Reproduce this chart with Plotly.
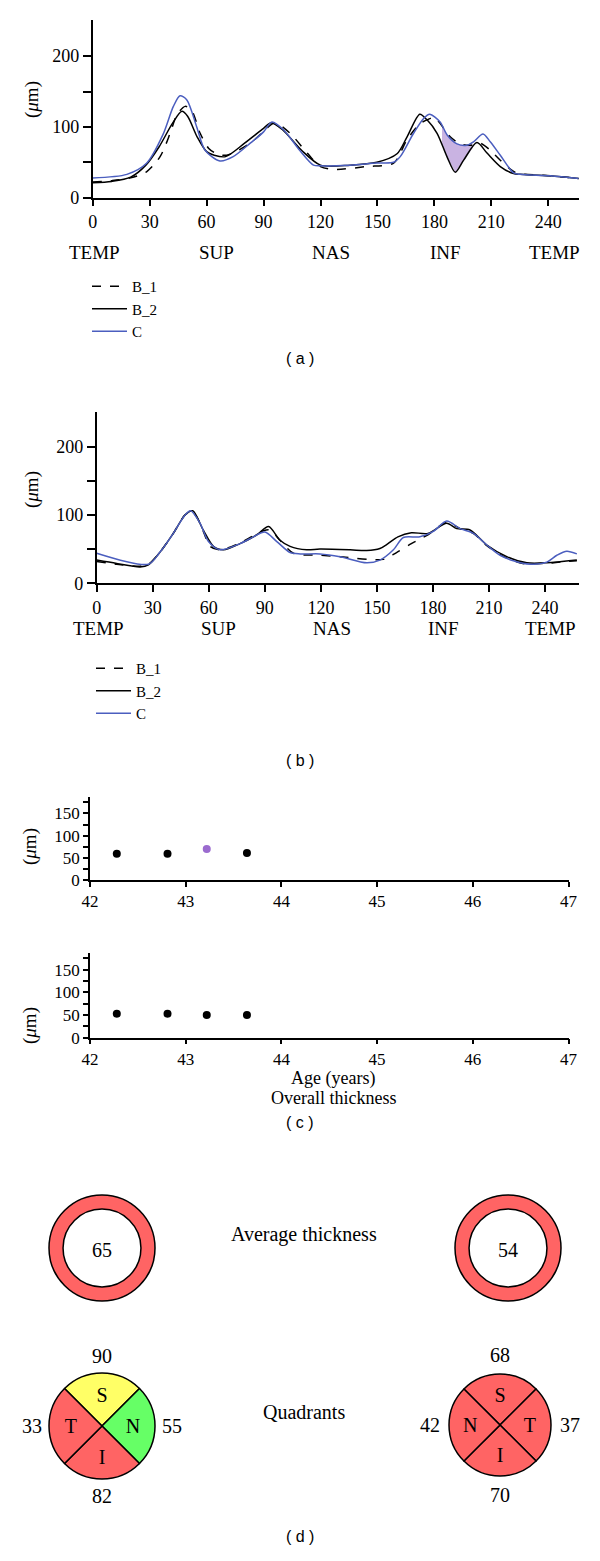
import numpy as np
import plotly.graph_objects as go

W, H = 600, 1561
SERIF = "Liberation Serif"
SANS = "Liberation Sans"

# ---------------- data ----------------
# panel (a) profiles (position in degrees, thickness in um)
a_b1_x = [0, 10, 20, 28.5, 35.5, 40.8, 44.3, 48.7, 52, 56.6, 61, 65.4, 70.6, 83, 91.7, 96, 104, 113, 120,
          126.8, 144.4, 158.5, 165.6, 172.6, 177.9, 180, 183, 188.3, 193.6, 198.9, 204.2, 209.4, 214.7,
          221.7, 225, 241, 256]
a_b1_y = [22, 24, 28, 37, 58, 91, 117, 129, 124, 91, 70, 62, 60, 77, 98, 106, 91, 63, 44,
          40, 44, 49, 82, 105, 112, 114, 105, 86, 76, 74, 77, 67, 53,
          37, 34, 31, 27]
a_b2_x = [0, 10, 20, 28, 35, 42, 47, 50, 55, 60, 64, 70, 80, 90, 94, 100, 110, 120, 135.6, 149.7,
          160.3, 165.6, 172.3, 176.1, 181.4, 186.6, 191, 195.4, 202.4, 207.7, 214.7, 221.7, 225, 241, 256]
a_b2_y = [21, 23, 29, 46, 72, 105, 122, 115, 86, 65, 60, 58, 77, 98, 106, 96, 67, 46, 46, 50,
          62, 86, 118, 110, 91, 58, 36, 53, 78, 63, 44, 34, 33, 31, 27]
a_c_x = [0, 18, 28.5, 37, 42.5, 46, 49.6, 54.8, 59.2, 67, 74, 83, 90, 94.4, 100.5, 109, 116.3, 120,
         135.6, 149.7, 158.5, 162, 169, 174.3, 177.5, 183, 186.6, 191.9, 197.1, 200.6, 205.6, 209.4,
         214.7, 221.7, 225.2, 241, 256]
a_c_y = [28, 33, 49, 89, 129, 144, 138, 100, 67, 52, 58, 77, 93, 107, 96, 67, 46, 45,
         46, 49, 50, 58, 91, 112, 118, 107, 89, 76, 74, 79, 90, 79,
         60, 35, 33, 31, 27]
a_shade_range = [184, 200]

# panel (b) profiles
b_b1_x = [0, 10.7, 23.2, 27.7, 34, 41, 47.3, 51, 55.3, 57.5, 60.7, 66, 76.7, 89.2, 92.8, 98.1, 105.3,
          119.5, 130.2, 153.4, 160.5, 168.4, 177.3, 187.3, 194.5, 201.6, 208.8, 219.5, 228, 239.4, 248, 257]
b_b1_y = [32, 28, 25, 28, 46, 73, 100, 105, 88, 73, 54, 49, 59, 77, 78, 63, 44,
          41, 39, 35, 45, 58, 71, 89, 80, 73, 55, 37, 29, 29, 31, 33]
b_b2_x = [0, 10.7, 23.2, 27.7, 34, 41, 47.3, 51.4, 57, 62.5, 67.8, 76.7, 85.7, 92, 98.1, 103.5, 112.4,
          119.5, 135.6, 144.5, 151.6, 155.9, 161.2, 168.4, 177.3, 187.3, 192.7, 199.8, 208.8, 219.5,
          230.2, 240.9, 257]
b_b2_y = [34, 29, 24, 27, 46, 73, 100, 106, 78, 54, 49, 58, 71, 83, 63, 54, 49,
          50, 49, 48, 51, 58, 68, 74, 73, 88, 80, 78, 56, 39,
          30, 30, 34]
b_c_x = [0, 27.7, 34, 41, 47.3, 50.3, 55.3, 59.8, 66, 76.7, 83.9, 90, 96.4, 103.5, 109, 119.5, 130.2,
         144.5, 151.6, 158.8, 164.1, 173, 180.2, 187.3, 194.5, 201.6, 208.8, 215.9, 223, 232, 240.9,
         246.3, 251.6, 257]
b_c_y = [44, 28, 46, 73, 100, 106, 88, 61, 49, 58, 68, 75, 61, 45, 43, 43, 39,
         30, 34, 49, 67, 68, 76, 91, 80, 73, 56, 41, 33, 28, 31,
         41, 47, 43]

profile_ticks = [0, 30, 60, 90, 120, 150, 180, 210, 240]
region_labels = ["TEMP", "SUP", "NAS", "INF", "TEMP"]
region_pos = [0.7, 65, 125.7, 185.8, 243]

# panel (c) overall thickness vs age
ages = [42.28, 42.81, 43.22, 43.64]
overall_top = [59, 59, 70, 61]
overall_top_colors = ["black", "black", "#9B6BCF", "black"]
overall_bottom = [53, 53, 50, 50]
overall_bottom_colors = ["black", "black", "black", "black"]

# panel (d)
avg_thickness = [65, 54]
quad_left_labels = ["S", "N", "I", "T"]
quad_left_values = [90, 55, 82, 33]
quad_left_colors = ["#FFFF66", "#66FF66", "#FF6464", "#FF6464"]
quad_right_labels = ["S", "T", "I", "N"]
quad_right_values = [68, 37, 70, 42]
quad_right_colors = ["#FF6464", "#FF6464", "#FF6464", "#FF6464"]
ring_color = "#FF6464"

BLUE = "#4B5EBF"
SHADE = "#C9B3E2"


def fx(p):
    return p / W


def fy(p):
    return 1 - p / H


fig = go.Figure()

# ---- panel (a) shading ----
xs = np.linspace(a_shade_range[0], a_shade_range[1], 40)
lo = np.interp(xs, a_b2_x, a_b2_y)
hi = np.interp(xs, a_c_x, a_c_y)
fig.add_trace(go.Scatter(x=xs, y=np.minimum(lo, hi), mode="lines", line=dict(width=0, shape="spline"),
                         showlegend=False, hoverinfo="skip", xaxis="x", yaxis="y"))
fig.add_trace(go.Scatter(x=xs, y=np.maximum(lo, hi), mode="lines", line=dict(width=0, shape="spline"),
                         fill="tonexty", fillcolor=SHADE, showlegend=False, hoverinfo="skip",
                         xaxis="x", yaxis="y"))


def add_profiles(b1x, b1y, b2x, b2y, cx, cy, xa, ya, leg):
    fig.add_trace(go.Scatter(x=b1x, y=b1y, mode="lines", name="B_1",
                             line=dict(color="black", width=1.5, dash="dash", shape="spline", smoothing=0.8),
                             xaxis=xa, yaxis=ya, legend=leg))
    fig.add_trace(go.Scatter(x=b2x, y=b2y, mode="lines", name="B_2",
                             line=dict(color="black", width=1.5, shape="spline", smoothing=0.8),
                             xaxis=xa, yaxis=ya, legend=leg))
    fig.add_trace(go.Scatter(x=cx, y=cy, mode="lines", name="C",
                             line=dict(color=BLUE, width=1.5, shape="spline", smoothing=0.8),
                             xaxis=xa, yaxis=ya, legend=leg))


add_profiles(a_b1_x, a_b1_y, a_b2_x, a_b2_y, a_c_x, a_c_y, "x", "y", "legend")
add_profiles(b_b1_x, b_b1_y, b_b2_x, b_b2_y, b_c_x, b_c_y, "x2", "y2", "legend2")

# ---- panel (c) ----
fig.add_trace(go.Scatter(x=ages, y=overall_top, mode="markers",
                         marker=dict(color=overall_top_colors, size=8, line=dict(width=0)),
                         showlegend=False, xaxis="x3", yaxis="y3"))
fig.add_trace(go.Scatter(x=ages, y=overall_bottom, mode="markers",
                         marker=dict(color=overall_bottom_colors, size=8, line=dict(width=0)),
                         showlegend=False, xaxis="x4", yaxis="y4"))

# ---- panel (d) ----
ring_centers = [(102, 1248), (508, 1248)]
ring_r = 53
for (cxp, cyp), val in zip(ring_centers, avg_thickness):
    fig.add_trace(go.Pie(values=[1], labels=["avg"], hole=0.735, sort=False,
                         marker=dict(colors=[ring_color], line=dict(color="black", width=1.5)),
                         textinfo="none", hoverinfo="skip", showlegend=False,
                         title=dict(text=str(val), position="middle center",
                                    font=dict(family=SERIF, size=20, color="black")),
                         domain=dict(x=[fx(cxp - ring_r), fx(cxp + ring_r)],
                                     y=[fy(cyp + ring_r), fy(cyp - ring_r)])))

quad_specs = [((102, 1426), 53, quad_left_labels, quad_left_values, quad_left_colors),
              ((500, 1425), 51, quad_right_labels, quad_right_values, quad_right_colors)]
annotations = []
for (cxp, cyp), r, labs, vals, cols in quad_specs:
    fig.add_trace(go.Pie(values=[1, 1, 1, 1], labels=labs, sort=False, direction="clockwise",
                         rotation=-45,
                         marker=dict(colors=cols, line=dict(color="black", width=1.5)),
                         textinfo="label", textposition="inside", insidetextorientation="horizontal",
                         textfont=dict(family=SERIF, size=20, color="black"),
                         hoverinfo="skip", showlegend=False,
                         domain=dict(x=[fx(cxp - r), fx(cxp + r)], y=[fy(cyp + r), fy(cyp - r)])))
    # outer values: top, right, bottom, left (in slice order)
    dirs = [(0, -1), (1, 0), (0, 1), (-1, 0)]
    for v, (dx, dy) in zip(vals, dirs):
        annotations.append(dict(x=fx(cxp + dx * 70), y=fy(cyp + dy * 70), xref="paper", yref="paper",
                                text=str(v), showarrow=False, xanchor="center", yanchor="middle",
                                font=dict(family=SERIF, size=20, color="black")))

annotations.append(dict(x=fx(304), y=fy(1248), xref="paper", yref="paper", text="Average thickness",
                        showarrow=False, font=dict(family=SERIF, size=20, color="black")))
annotations.append(dict(x=fx(304), y=fy(1425), xref="paper", yref="paper", text="Quadrants",
                        showarrow=False, font=dict(family=SERIF, size=20, color="black")))

# region labels for (a) and (b)
for xa, ypix in (("x", 252), ("x2", 628)):
    for lab, pos in zip(region_labels, region_pos):
        annotations.append(dict(x=pos, y=fy(ypix), xref=xa, yref="paper", text=lab, showarrow=False,
                                xanchor="center", yanchor="middle",
                                font=dict(family=SERIF, size=19, color="black")))

# y-axis titles
for xp, yp in ((32, 100), (32, 490), (30, 847), (30, 1026)):
    annotations.append(dict(x=fx(xp), y=fy(yp), xref="paper", yref="paper", text="(<i>μ</i>m)",
                            textangle=-90, showarrow=False, xanchor="center", yanchor="middle",
                            font=dict(family=SERIF, size=19, color="black")))

annotations.append(dict(x=fx(333), y=fy(1091), xref="paper", yref="paper", text="Age (years)",
                        showarrow=False, font=dict(family=SERIF, size=18, color="black")))
annotations.append(dict(x=fx(333), y=fy(1110), xref="paper", yref="paper", text="Overall thickness",
                        showarrow=False, font=dict(family=SERIF, size=18, color="black")))

for lab, yp in (("( a )", 348), ("( b )", 760), ("( c )", 1133), ("( d )", 1547)):
    annotations.append(dict(x=0.5, y=fy(yp), xref="paper", yref="paper", text=lab, showarrow=False,
                            font=dict(family=SANS, size=16, color="black")))

axis_common = dict(showline=True, linecolor="black", linewidth=1.5, ticks="outside", tickcolor="black",
                   tickwidth=1.5, showgrid=False, zeroline=False, fixedrange=True, automargin=False,
                   tickfont=dict(family=SERIF, size=18, color="black"))

y_prof_ticks = [0, 50, 100, 150, 200]
y_prof_text = ["0", "", "100", "", "200"]
c_ticks = [0, 25, 50, 75, 100, 125, 150, 175]
c_text = ["0", "", "50", "", "100", "", "150", ""]
age_ticks = [42, 43, 44, 45, 46, 47]
small_font = dict(family=SERIF, size=17, color="black")
legend_font = dict(family=SERIF, size=15, color="black")

fig.update_layout(
    width=W, height=H, margin=dict(l=0, r=0, t=0, b=0, autoexpand=False),
    paper_bgcolor="white", plot_bgcolor="white",
    xaxis=dict(axis_common, domain=[fx(92.7), fx(578.7)], range=[0, 256], tickvals=profile_ticks,
               ticklen=7, anchor="y"),
    yaxis=dict(axis_common, domain=[fy(197.7), fy(20)], range=[0, 251], tickvals=y_prof_ticks,
               ticktext=y_prof_text, ticklen=8, anchor="x"),
    xaxis2=dict(axis_common, domain=[fx(96.7), fx(579.3)], range=[0, 258.3], tickvals=profile_ticks,
                ticklen=7, anchor="y2"),
    yaxis2=dict(axis_common, domain=[fy(583.3), fy(411.7)], range=[0, 251], tickvals=y_prof_ticks,
                ticktext=y_prof_text, ticklen=8, anchor="x2"),
    xaxis3=dict(axis_common, domain=[fx(90), fx(568.5)], range=[42, 47], tickvals=age_ticks,
                ticklen=5, anchor="y3", tickfont=small_font),
    yaxis3=dict(axis_common, domain=[fy(880), fy(797)], range=[0, 187], tickvals=c_ticks,
                ticktext=c_text, ticklen=5, anchor="x3", tickfont=small_font),
    xaxis4=dict(axis_common, domain=[fx(90), fx(568.5)], range=[42, 47], tickvals=age_ticks,
                ticklen=5, anchor="y4", tickfont=small_font),
    yaxis4=dict(axis_common, domain=[fy(1037.7), fy(952.8)], range=[0, 187], tickvals=c_ticks,
                ticktext=c_text, ticklen=5, anchor="x4", tickfont=small_font),
    legend=dict(x=fx(87), y=fy(270), xanchor="left", yanchor="top", bgcolor="rgba(0,0,0,0)",
                font=legend_font, tracegroupgap=0, traceorder="normal", itemwidth=35),
    legend2=dict(x=fx(91), y=fy(652), xanchor="left", yanchor="top", bgcolor="rgba(0,0,0,0)",
                 font=legend_font, tracegroupgap=0, traceorder="normal", itemwidth=35),
    annotations=annotations,
    showlegend=True,
)

fig.write_html("out.html", config={"displayModeBar": False},
               post_script="document.body.style.margin='0';document.body.style.overflow='hidden';")
